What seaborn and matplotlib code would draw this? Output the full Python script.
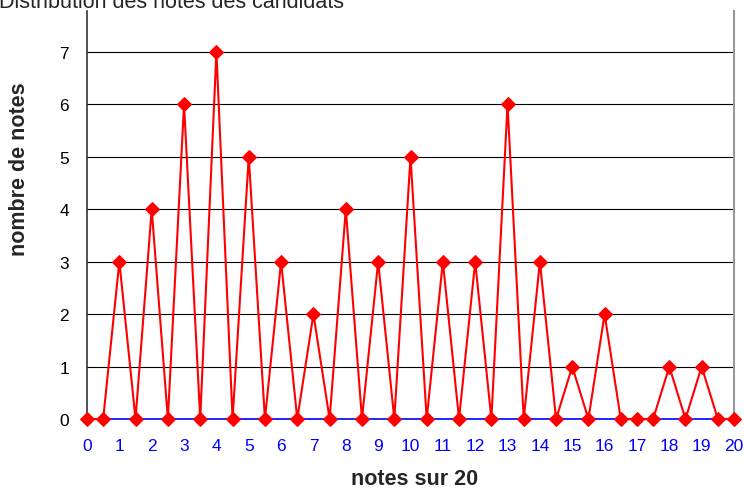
import matplotlib
matplotlib.use("Agg")
import matplotlib.pyplot as plt
import seaborn as sns
import pandas as pd
import numpy as np

notes = [0, 0.5, 1, 1.5, 2, 2.5, 3, 3.5, 4, 4.5, 5, 5.5, 6, 6.5, 7, 7.5, 8, 8.5, 9, 9.5,
         10, 10.5, 11, 11.5, 12, 12.5, 13, 13.5, 14, 14.5, 15, 15.5, 16, 16.5, 17, 17.5,
         18, 18.5, 19, 19.5, 20]
counts = [0, 0, 3, 0, 4, 0, 6, 0, 7, 0, 5, 0, 3, 0, 2, 0, 4, 0, 3, 0,
          5, 0, 3, 0, 3, 0, 6, 0, 3, 0, 1, 0, 2, 0, 0, 0,
          1, 0, 1, 0, 0]
x_ticks = list(range(0, 21))
y_ticks = list(range(0, 8))

sns.set_style("white")
plt.rcParams['font.family'] = ['Liberation Sans', 'DejaVu Sans']

W, H = 744, 489
fig = plt.figure(figsize=(W/100, H/100), dpi=100)
ax = fig.add_axes([87/W, 1-420/H, (734-87)/W, (420-12)/H])

df = pd.DataFrame({"notes": notes, "count": counts})
sns.lineplot(data=df, x="notes", y="count", ax=ax, color="#ff0000", linewidth=1.5,
             marker="D", markersize=7, markeredgecolor="#ff0000", clip_on=False, zorder=5)

ax.set_xlim(0, 20)
ax.set_ylim(0, 7.78)
ax.set_xticks(x_ticks)
ax.set_yticks(y_ticks)
ax.set_xticklabels([str(t) for t in x_ticks], color="#0000ff", fontsize=12.5)
ax.set_yticklabels([str(t) for t in y_ticks], color="black", fontsize=12.5)
for y in y_ticks[1:]:
    ax.axhline(y, color="black", linewidth=0.8, zorder=1)

ax.spines['top'].set_visible(False)
ax.spines['left'].set_color("#333333")
ax.spines['left'].set_linewidth(1.2)
ax.spines['right'].set_color("#999999")
ax.spines['right'].set_linewidth(1.5)
ax.spines['bottom'].set_color("#0000ff")
ax.spines['bottom'].set_linewidth(1.2)
ax.tick_params(axis='x', direction='out', length=4, color="#0000ff", pad=9.5)
ax.tick_params(axis='y', direction='out', length=5, color="#333333", pad=8)

ax.set_xlabel("")
ax.set_ylabel("")
fig.text(415/W, 1-480/H, "notes sur 20", fontsize=15.5, fontweight="bold",
         ha="center", va="center")
fig.text(20/W, 1-169/H, "nombre de notes", fontsize=15.5, fontweight="bold",
         ha="center", va="center", rotation=90)
fig.text(-1/W, 1-8/H, "Distribution des notes des candidats", fontsize=15.5,
         ha="left", va="baseline")

fig.savefig("out.png", dpi=100)
